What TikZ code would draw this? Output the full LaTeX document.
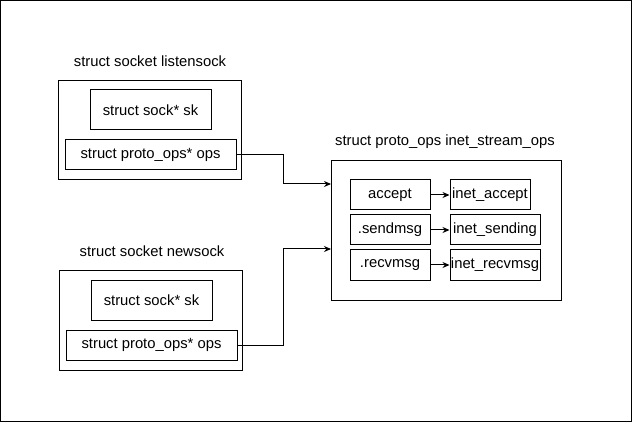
\documentclass[tikz,border=0pt]{standalone}
\usepackage{fontspec}
\setmainfont{Liberation Sans}
\usetikzlibrary{arrows.meta}

\begin{document}
\begin{tikzpicture}[x=1pt,y=-1pt,line width=1pt,
		every node/.style={font=\fontsize{14.8}{17}\selectfont},
		field/.style={draw,inner sep=0pt,minimum height=30},
		holder/.style={draw,inner sep=0pt},
		link/.style={-{Stealth[length=7pt,width=6pt]}}]
		% Draw frame
		\useasboundingbox (0,0) rectangle (632,422);
		\draw (0.5,0.5) rectangle (631.5,421.5);
		
		% Add labels for the structs
		\node (listentitle) at (150,61) {struct socket listensock};
		\node (newtitle) at (152,251) {struct socket newsock};
		\node (opstitle) at (445,142) {struct proto\_ops inet\_stream\_ops};
		
		% Draw socket listensock
		\node[holder,minimum width=183,minimum height=99] (listen) at (149.5,130.5) {};
		\node[field,minimum width=121,minimum height=40] (lsk) at (150.5,110) {struct sock* sk};
		\node[field,minimum width=171] (lops) at (150.5,155) {struct proto\_ops* ops};
		
		% Draw socket newsock
		\node[holder,minimum width=183,minimum height=99] (new) at (150.5,320.5) {};
		\node[field,minimum width=121,minimum height=40] (nsk) at (151.5,300) {struct sock* sk};
		\node[field,minimum width=171] (nops) at (151.5,345) {struct proto\_ops* ops};
		
		% Draw inet_stream_ops
		\node[holder,minimum width=230,minimum height=139] (ops) at (446,230.5) {};
		\node[field,minimum width=80] (accept) at (390,195) {accept};
		\node[field,minimum width=80] (sendmsg) at (390,230) {.sendmsg};
		\node[field,minimum width=80] (recvmsg) at (390,265) {.recvmsg};
		\node[field,minimum width=80] (iaccept) at (490,195) {inet\_accept};
		\node[field,minimum width=90] (isending) at (495,230) {inet\_sending};
		\node[field,minimum width=90] (irecvmsg) at (495,265) {inet\_recvmsg};
		
		% Connect the fields
		\coordinate (in1) at (331,184);
		\coordinate (in2) at (331,249);
		\draw[link] (lops.east) -- ++(47,0) |- (in1);
		\draw[link] (nops.east) -- ++(46,0) |- (in2);
		\draw[link] (accept) -- (iaccept);
		\draw[link] (sendmsg) -- (isending);
		\draw[link] (recvmsg) -- (irecvmsg);
	\end{tikzpicture}
\end{document}
